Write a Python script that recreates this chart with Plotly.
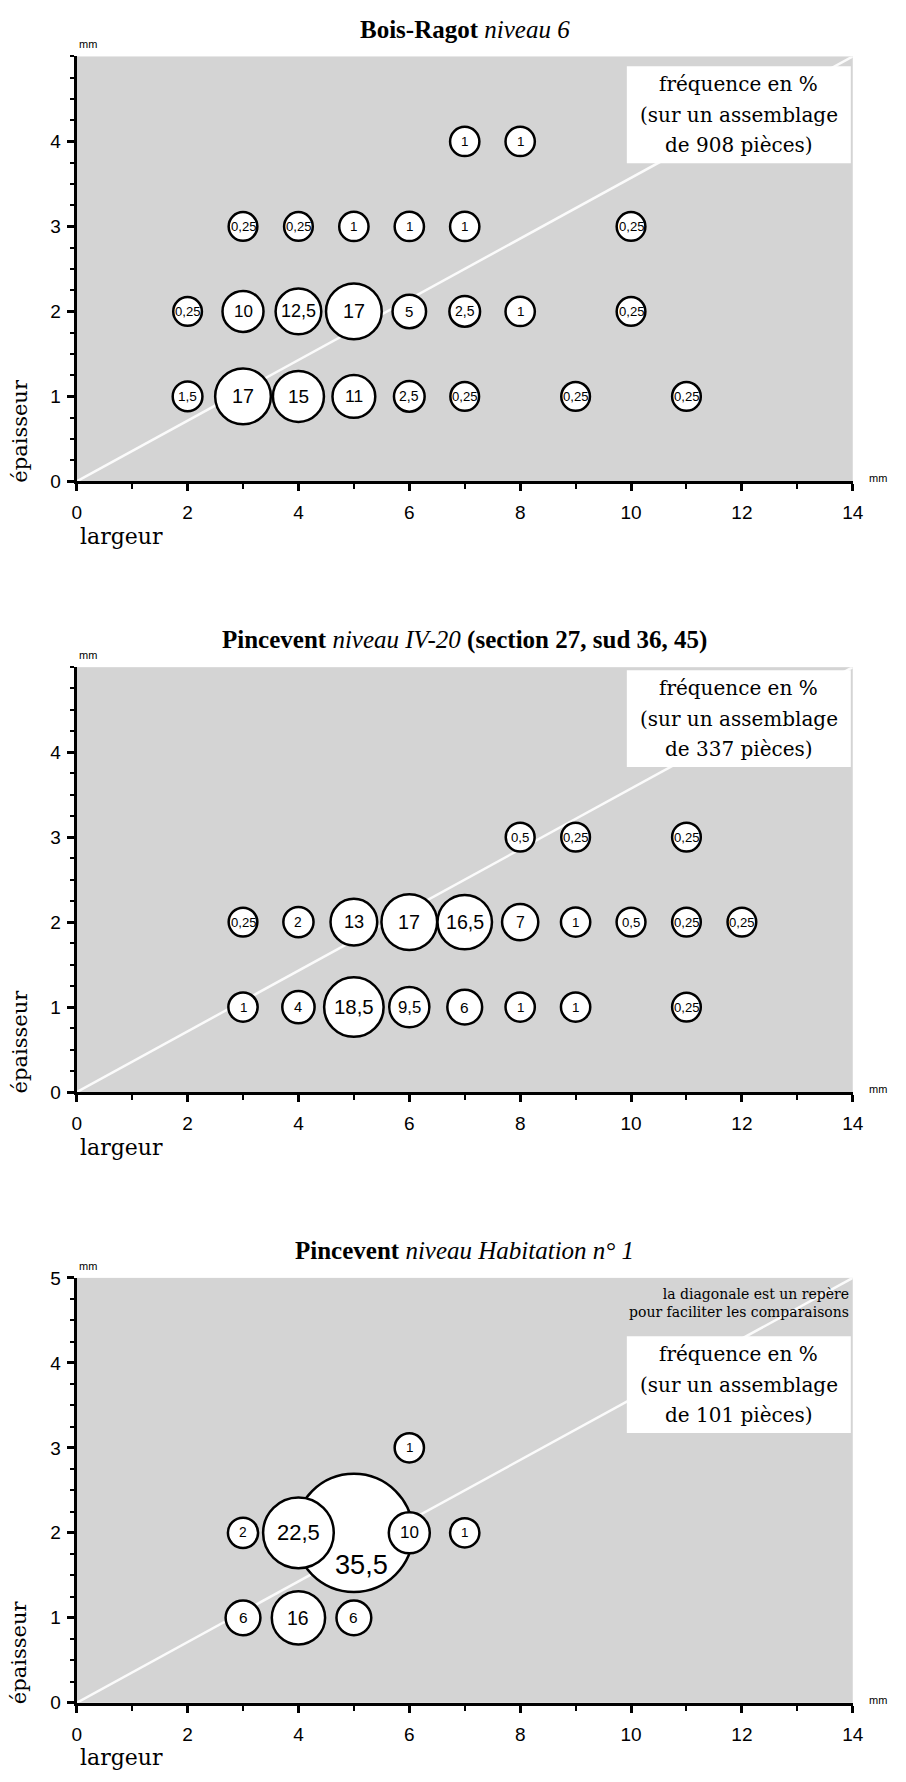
import plotly.graph_objects as go

# ---- data: frequency (%) of pieces by width (largeur) and thickness (épaisseur), in mm ----
BR_LARGEUR = [7, 8, 3, 4, 5, 6, 7, 10, 2, 3, 4, 5, 6, 7, 8, 10, 2, 3, 4, 5, 6, 7, 9, 11]
BR_EPAISSEUR = [4, 4, 3, 3, 3, 3, 3, 3, 2, 2, 2, 2, 2, 2, 2, 2, 1, 1, 1, 1, 1, 1, 1, 1]
BR_FREQ = [1, 1, 0.25, 0.25, 1, 1, 1, 0.25, 0.25, 10, 12.5, 17, 5, 2.5, 1, 0.25,
           1.5, 17, 15, 11, 2.5, 0.25, 0.25, 0.25]

P20_LARGEUR = [8, 9, 11, 3, 4, 5, 6, 7, 8, 9, 10, 11, 12, 3, 4, 5, 6, 7, 8, 9, 11]
P20_EPAISSEUR = [3, 3, 3, 2, 2, 2, 2, 2, 2, 2, 2, 2, 2, 1, 1, 1, 1, 1, 1, 1, 1]
P20_FREQ = [0.5, 0.25, 0.25, 0.25, 2, 13, 17, 16.5, 7, 1, 0.5, 0.25, 0.25,
            1, 4, 18.5, 9.5, 6, 1, 1, 0.25]

HAB_LARGEUR = [6, 3, 4, 5, 6, 7, 3, 4, 5]
HAB_EPAISSEUR = [3, 2, 2, 2, 2, 2, 1, 1, 1]
HAB_FREQ = [1, 2, 22.5, 35.5, 10, 1, 6, 16, 6]

PIECES = [908, 337, 101]
TITLES = [
    "<b>Bois-Ragot</b> <i>niveau 6</i>",
    "<b>Pincevent</b> <i>niveau IV-20</i> <b>(section 27, sud 36, 45)</b>",
    "<b>Pincevent</b> <i>niveau Habitation n° 1</i>",
]
X_TICKS = [0, 2, 4, 6, 8, 10, 12, 14]
Y_TICKS = [[0, 1, 2, 3, 4], [0, 1, 2, 3, 4], [0, 1, 2, 3, 4, 5]]
X_RANGE = [0, 14]
Y_RANGE = [0, 5]

PANELS = [
    (BR_LARGEUR, BR_EPAISSEUR, BR_FREQ),
    (P20_LARGEUR, P20_EPAISSEUR, P20_FREQ),
    (HAB_LARGEUR, HAB_EPAISSEUR, HAB_FREQ),
]

# ---- layout / style ----
W, H = 906, 1782
PLOT_L, PLOT_R = 73, 863
PANEL_BOTTOM = [477, 1095, 1713]
PANEL_H = 430
PLOT_W = PLOT_R - PLOT_L
BG = "#d4d4d4"
SERIF = "Liberation Serif, Times New Roman, serif"
WIDE_SERIF = "DejaVu Serif, Liberation Serif, serif"
NARROW = "Liberation Sans Narrow, Arial Narrow, Liberation Sans, Arial, sans-serif"
SANS = "Liberation Sans, Arial, sans-serif"
OUTLINE = 2.5

# label nudges (px) for labels sitting off-centre in their circle: (panel, largeur, épaisseur)
LABEL_NUDGE = {(2, 5, 2): (8, -32)}
# white legend box: top edge in px below the panel's plot top, size and line pitch
BOX_TOP = [10, 3, 59]
BOX_LEFT, BOX_RIGHT = 633, 861
BOX_H = 98
LINE_PITCH = 30.5


def diameter(p):
    return 31 + 0.75 * p + 0.05 * p * p


def label_size(p):
    return 13 + 0.4 * p


def fmt(p):
    return f"{p:g}".replace(".", ",")


fig = go.Figure()
annotations = []
shapes = []
layout_axes = {}

for i, (xs, ys, fs) in enumerate(PANELS):
    suffix = "" if i == 0 else str(i + 1)
    xa, ya = "x" + suffix, "y" + suffix
    xd, yd = xa + " domain", ya + " domain"
    bottom = PANEL_BOTTOM[i]
    top = bottom - PANEL_H

    layout_axes["xaxis" + suffix] = dict(
        domain=[PLOT_L / W, PLOT_R / W], range=X_RANGE, anchor=ya,
        tickmode="array", tickvals=X_TICKS,
        ticks="outside", ticklen=7, tickwidth=2.5, tickcolor="black",
        showline=True, linewidth=3, linecolor="black",
        showgrid=False, zeroline=False,
        tickfont=dict(family=SANS, size=19, color="black"),
        ticklabelstandoff=5,
        minor=dict(dtick=1, tick0=0, ticks="outside", ticklen=5, tickwidth=2,
                   tickcolor="black", showgrid=False),
    )
    layout_axes["yaxis" + suffix] = dict(
        domain=[1 - bottom / H, 1 - top / H], range=Y_RANGE, anchor=xa,
        tickmode="array", tickvals=Y_TICKS[i],
        ticks="outside", ticklen=7, tickwidth=2.5, tickcolor="black",
        showline=True, linewidth=3, linecolor="black",
        showgrid=False, zeroline=False,
        tickfont=dict(family=SANS, size=19, color="black"),
        ticklabelstandoff=2,
        minor=dict(dtick=0.25, tick0=0, ticks="outside", ticklen=4, tickwidth=1.5,
                   tickcolor="black", showgrid=False),
    )

    # white reference diagonal across the plotting area
    shapes.append(dict(
        type="line", xref=xa, yref=ya, layer="below",
        x0=X_RANGE[0], y0=Y_RANGE[0], x1=X_RANGE[1], y1=Y_RANGE[1],
        line=dict(color="rgba(255,255,255,0.9)", width=2.5),
    ))

    # larger circles first so smaller ones sit on top
    order = sorted(range(len(fs)), key=lambda k: -fs[k])
    fig.add_trace(go.Scatter(
        x=[xs[k] for k in order], y=[ys[k] for k in order],
        mode="markers", xaxis=xa, yaxis=ya,
        marker=dict(size=[diameter(fs[k]) - OUTLINE for k in order],
                    color="white", opacity=1,
                    line=dict(color="black", width=OUTLINE)),
        hoverinfo="skip", showlegend=False, cliponaxis=False,
    ))
    for k in order:
        dx, dy = LABEL_NUDGE.get((i, xs[k], ys[k]), (0, 0))
        annotations.append(dict(
            x=xs[k], y=ys[k], xref=xa, yref=ya, text=fmt(fs[k]),
            showarrow=False, xshift=dx, yshift=dy,
            font=dict(family=NARROW, size=label_size(fs[k]), color="black"),
        ))

    # panel title
    annotations.append(dict(
        text=TITLES[i], xref=xd, yref=yd, x=0.5, y=1, yshift=27, showarrow=False,
        xanchor="center", yanchor="middle",
        font=dict(family=SERIF, size=25, color="black"),
    ))
    # unit marks
    annotations.append(dict(text="mm", xref=xd, yref=yd, x=0, y=1, yshift=12,
                            xanchor="left", yanchor="middle", showarrow=False,
                            font=dict(family=SANS, size=11, color="black")))
    annotations.append(dict(text="mm", xref=xd, yref=yd, x=1, y=0, xshift=14, yshift=3,
                            xanchor="left", yanchor="middle", showarrow=False,
                            font=dict(family=SANS, size=11, color="black")))
    # axis titles
    annotations.append(dict(text="largeur", xref=xd, yref=yd, x=0, y=0, xshift=1, yshift=-55,
                            xanchor="left", yanchor="middle", showarrow=False,
                            font=dict(family=WIDE_SERIF, size=22, color="black")))
    annotations.append(dict(text="épaisseur", xref="paper", yref=yd, x=15 / W, y=51 / PANEL_H,
                            textangle=-90, xanchor="center", yanchor="middle", showarrow=False,
                            font=dict(family=WIDE_SERIF, size=21, color="black")))

    # legend box: white panel with three centred lines
    box_top = 1 - BOX_TOP[i] / PANEL_H
    box_bottom = 1 - (BOX_TOP[i] + BOX_H) / PANEL_H
    shapes.append(dict(
        type="rect", xref=xd, yref=yd, layer="above",
        x0=(BOX_LEFT - PLOT_L) / PLOT_W, x1=(BOX_RIGHT - PLOT_L) / PLOT_W,
        y0=box_bottom, y1=box_top,
        fillcolor="white", line=dict(width=0),
    ))
    legend_lines = ["fréquence en %", "(sur un assemblage", f"de {PIECES[i]} pièces)"]
    box_mid_x = ((BOX_LEFT + BOX_RIGHT) / 2 - PLOT_L) / PLOT_W
    box_mid_y = (box_top + box_bottom) / 2
    for j, line in enumerate(legend_lines):
        annotations.append(dict(
            text=line, xref=xd, yref=yd, x=box_mid_x, y=box_mid_y,
            yshift=(1 - j) * LINE_PITCH, xanchor="center", yanchor="middle",
            showarrow=False, font=dict(family=WIDE_SERIF, size=20, color="black"),
        ))
    if i == 2:
        annotations.append(dict(
            text="la diagonale est un repère<br>pour faciliter les comparaisons",
            xref=xd, yref=yd, x=(BOX_RIGHT - PLOT_L) / PLOT_W, y=1 - 6 / PANEL_H,
            xanchor="right", yanchor="top", align="right", showarrow=False,
            font=dict(family=WIDE_SERIF, size=14, color="black"),
        ))

fig.update_layout(
    width=W, height=H, autosize=False,
    margin=dict(l=0, r=0, t=0, b=0),
    paper_bgcolor="white", plot_bgcolor=BG,
    annotations=annotations, shapes=shapes,
    showlegend=False,
    **layout_axes,
)

fig.write_html("out.html")
